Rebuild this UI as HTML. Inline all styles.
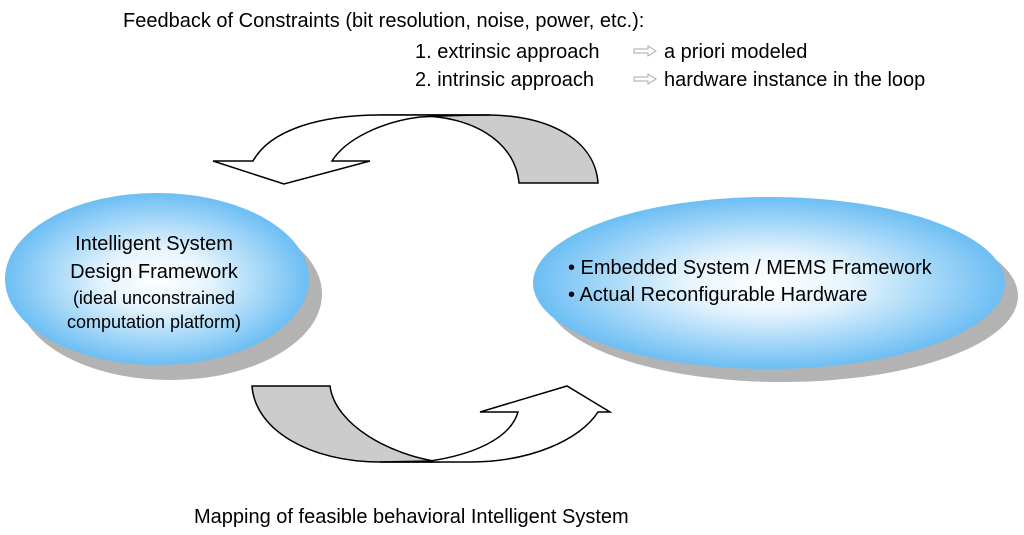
<!DOCTYPE html>
<html><head><meta charset="utf-8"><style>
html,body{margin:0;padding:0;background:#fff;}
svg{display:block;}
text{font-family:"Liberation Sans",Arial,sans-serif;fill:#000;}
</style></head><body>
<svg width="1024" height="535" viewBox="0 0 1024 535" xmlns="http://www.w3.org/2000/svg">
<defs>
<radialGradient id="g" cx="50%" cy="50%" r="50%">
<stop offset="0" stop-color="#ffffff"/>
<stop offset="0.35" stop-color="#e6f4fd"/>
<stop offset="1" stop-color="#6cbef4"/>
</radialGradient>
</defs>
<text x="123" y="27" font-size="20">Feedback of Constraints (bit resolution, noise, power, etc.):</text>
<text x="415" y="58" font-size="20">1. extrinsic approach</text>
<text x="415" y="86" font-size="20">2. intrinsic approach</text>
<text x="664" y="58" font-size="20">a priori modeled</text>
<text x="664" y="86" font-size="20">hardware instance in the loop</text>
<g fill="#fff" stroke="#aaa" stroke-width="1">
<path d="M634 49 h14 v-3 l8 5 l-8 5 v-3 h-14 z"/>
<path d="M634 77 h14 v-3 l8 5 l-8 5 v-3 h-14 z"/>
</g>
<!-- top arrow -->
<path d="M420 116 C470 116 515 140 519 183 L598 183 C595 140 550 116 490 115 L380 115 Z" fill="#ccc" stroke="#000" stroke-width="1.5"/>
<path d="M253 161 C270 130 320 115 380 115 L490 115 C460 115 440 116 420 117 C380 122 345 140 332 161 L370 161 L284 184 L213 161 Z" fill="#fff" stroke="#000" stroke-width="1.5"/>
<!-- bottom arrow -->
<path d="M252 386 L330 386 C335 425 390 455 440 462 L380 462 C310 462 255 430 252 386 Z" fill="#ccc" stroke="#000" stroke-width="1.5"/>
<path d="M430 461 C470 455 510 440 518 412 L480 412 L567 386 L610 412 L598 412 C580 440 530 462 470 462 L380 462 Z" fill="#fff" stroke="#000" stroke-width="1.5"/>
<!-- ellipses -->
<ellipse cx="170" cy="294" rx="152" ry="86" fill="#b3b3b3"/>
<ellipse cx="157" cy="279" rx="152" ry="86" fill="url(#g)"/>
<ellipse cx="782" cy="296" rx="236" ry="86" fill="#b3b3b3"/>
<ellipse cx="769" cy="283" rx="236" ry="86" fill="url(#g)"/>
<g font-size="20" text-anchor="middle">
<text x="154" y="250">Intelligent System</text>
<text x="154" y="278">Design Framework</text>
<text x="154" y="304" font-size="18">(ideal unconstrained</text>
<text x="154" y="328" font-size="18">computation platform)</text>
</g>
<text x="568" y="274" font-size="20">• Embedded System / MEMS Framework</text>
<text x="568" y="301" font-size="20">• Actual Reconfigurable Hardware</text>
<text x="194" y="523" font-size="20">Mapping of feasible behavioral Intelligent System</text>
</svg>
</body></html>
